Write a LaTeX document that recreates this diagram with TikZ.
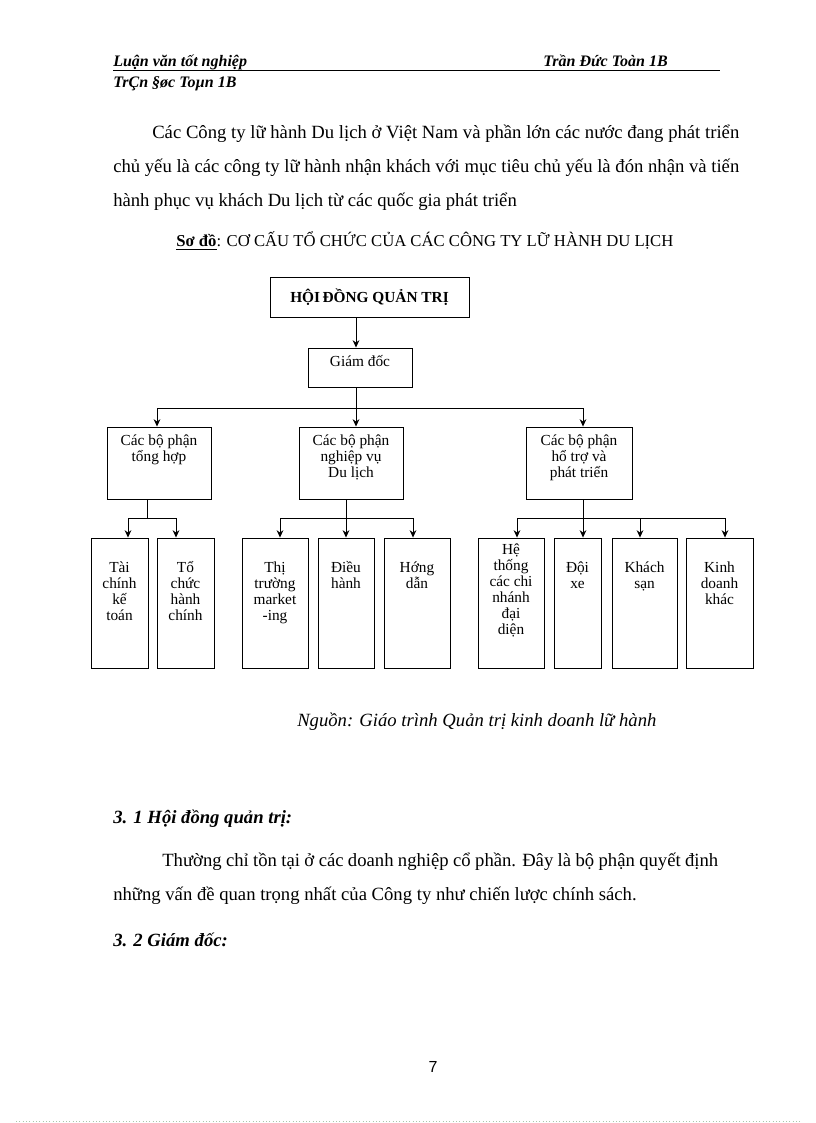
\documentclass[tikz,border=0pt]{standalone}
\usepackage{fontspec}
\setmainfont{Liberation Serif}
\setsansfont{Liberation Sans}
\usetikzlibrary{arrows.meta}
\tikzset{
  arr/.style={-{Stealth[length=5.5pt,width=5pt]}, line width=0.6pt},
  ln/.style={line width=0.6pt},
  bx/.style={draw, line width=0.7pt, inner sep=0pt, font=\fontsize{11.5}{12}\selectfont},
  txt/.style={inner sep=0pt, anchor=base west, font=\fontsize{14}{16}\selectfont},
  hdr/.style={inner sep=0pt, anchor=base west, font=\fontsize{12}{14}\selectfont\bfseries\itshape},
  sec/.style={inner sep=0pt, anchor=base west, font=\fontsize{14}{16}\selectfont\bfseries\itshape},
}
\newcommand\boxin[4]{\parbox[t][#2][t]{#1}{\centering\rule{0pt}{#3}#4}}
\begin{document}
\begin{tikzpicture}[x=0.75pt,y=-0.75pt]
\useasboundingbox (0,0) rectangle (816,1123);
\fill[white] (0,0) rectangle (816,1123);

% header
\node[hdr] (h1) at (113,67) {Luận văn tốt nghiệp};
\node[hdr] (h2) at (543,67) {Trần Đức Toàn 1B};
\draw[line width=0.75pt] (113,71) -- (720,71);
\node[hdr] (h3) at (113,88) {TrÇn §øc Toµn 1B};

% intro paragraph
\node[txt] (p1) at (152,139) {\makebox[440.25pt][s]{Các Công ty lữ hành Du lịch ở Việt Nam và phần lớn các nước đang phát triển}};
\node[txt] (p2) at (113,173) {\makebox[469.5pt][s]{chủ yếu là các công ty lữ hành nhận khách với mục tiêu chủ yếu là đón nhận và tiến}};
\node[txt] (p3) at (113,207) {hành phục vụ khách Du lịch từ các quốc gia phát triển};

% title
\node[inner sep=0pt, anchor=base west, font=\fontsize{12.5}{14}\selectfont] (title) at (176,247)
  {\underline{\textbf{Sơ đồ}}: CƠ CẤU TỔ CHỨC CỦA CÁC CÔNG TY LỮ HÀNH DU LỊCH};

% chart
\node[draw, line width=0.7pt, minimum width=149.25pt, minimum height=30pt, inner sep=0pt,
      font=\fontsize{11.5}{12}\selectfont\bfseries] (HD) at (369.5,297) {HỘI\,ĐỒNG QUẢN TRỊ};
\node[bx] (GD) at (360,367.5) {\boxin{78pt}{29.25pt}{13.5pt}{Giám đốc}};

\node[bx] (B1) at (159,463) {\boxin{78pt}{54pt}{13.5pt}{Các bộ phận\\tổng hợp}};
\node[bx] (B2) at (351,463) {\boxin{78pt}{54pt}{13.5pt}{Các bộ phận\\nghiệp vụ\\Du lịch}};
\node[bx] (B3) at (579,463) {\boxin{79.5pt}{54pt}{13.5pt}{Các bộ phận\\hổ trợ và\\phát triển}};

\node[bx] (C1) at (119.5,603) {\boxin{42.75pt}{97.5pt}{25.5pt}{Tài\\chính\\kế\\toán}};
\node[bx] (C2) at (185.5,603) {\boxin{42.75pt}{97.5pt}{25.5pt}{Tổ\\chức\\hành\\chính}};
\node[bx] (C3) at (275,603) {\boxin{49.5pt}{97.5pt}{25.5pt}{Thị\\trường\\market\\-ing}};
\node[bx] (C4) at (346,603) {\boxin{42pt}{97.5pt}{25.5pt}{Điều\\hành}};
\node[bx] (C5) at (417,603) {\boxin{49.5pt}{97.5pt}{25.5pt}{Hớng\\dẫn}};
\node[bx] (C6) at (511,603) {\boxin{49.5pt}{97.5pt}{12.5pt}{Hệ\\thống\\các chi\\nhánh\\đại\\diện}};
\node[bx] (C7) at (577.5,603) {\boxin{35.25pt}{97.5pt}{25.5pt}{Đội\\xe}};
\node[bx] (C8) at (644.5,603) {\boxin{48.75pt}{97.5pt}{25.5pt}{Khách\\sạn}};
\node[bx] (C9) at (719.5,603) {\boxin{50.25pt}{97.5pt}{25.5pt}{Kinh\\doanh\\khác}};

% junction points
\coordinate (s0) at (356,408);
\coordinate (sl) at (157,408);
\coordinate (sr) at (583,408);
\coordinate (t1) at (147,518);
\coordinate (a1) at (128,518);
\coordinate (a2) at (176,518);
\coordinate (t2) at (346,518);
\coordinate (b1) at (280,518);
\coordinate (b3) at (413,518);
\coordinate (t3) at (583,518);
\coordinate (c1) at (517,518);
\coordinate (c3) at (640,518);
\coordinate (c4) at (725,518);

% connectors
\draw[arr] (HD.south -| s0) -- (GD.north -| s0);
\draw[ln] (GD.south -| s0) -- (s0);
\draw[ln] (sl) -- (sr);
\draw[arr] (sl) -- (B1.north -| sl);
\draw[arr] (s0) -- (B2.north -| s0);
\draw[arr] (sr) -- (B3.north -| sr);

\draw[ln] (B1.south -| t1) -- (t1);
\draw[ln] (a1) -- (a2);
\draw[arr] (a1) -- (C1.north -| a1);
\draw[arr] (a2) -- (C2.north -| a2);

\draw[ln] (b1) -- (b3);
\draw[arr] (B2.south -| t2) -- (C4.north -| t2);
\draw[arr] (b1) -- (C3.north -| b1);
\draw[arr] (b3) -- (C5.north -| b3);

\draw[ln] (c1) -- (c4);
\draw[arr] (B3.south -| t3) -- (C7.north -| t3);
\draw[arr] (c1) -- (C6.north -| c1);
\draw[arr] (c3) -- (C8.north -| c3);
\draw[arr] (c4) -- (C9.north -| c4);

% source
\node[inner sep=0pt, anchor=base west, font=\fontsize{14}{16}\selectfont\itshape] (src) at (297,726)
  {Nguồn: Giáo trình Quản trị kinh doanh lữ hành};

% section 3.1
\node[sec] (s31) at (113,823) {3. 1 Hội đồng quản trị:};
\node[txt] (q1) at (162,866) {\makebox[417pt][s]{Thường chỉ tồn tại ở các doanh nghiệp cổ phần. Đây là bộ phận quyết định}};
\node[txt] (q2) at (113,900) {những vấn đề quan trọng nhất của Công ty như chiến lược chính sách.};
\node[sec] (s32) at (113,946) {3. 2 Giám đốc:};

% page number
\node[inner sep=0pt, anchor=base, font=\sffamily\fontsize{12}{14}\selectfont] (pg) at (433,1072) {7};
\draw[dotted, line width=0.5pt, color={rgb,255:red,170;green,200;blue,170}] (16,1121) -- (800,1121);
\end{tikzpicture}
\end{document}
